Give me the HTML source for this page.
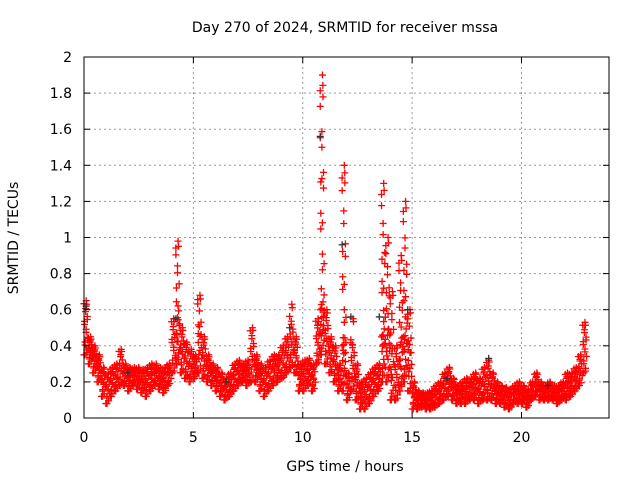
<!DOCTYPE html>
<html><head><meta charset="utf-8"><style>
body{margin:0;background:#fff}
svg{display:block;font-family:"DejaVu Sans","Liberation Sans",sans-serif}
</style></head><body>
<svg id="c" width="640" height="480">
<text x="345" y="32" font-size="14" text-anchor="middle">Day 270 of 2024, SRMTID for receiver mssa</text>
<text x="345" y="471" font-size="14" text-anchor="middle">GPS time / hours</text>
<text transform="translate(18,238) rotate(-90)" font-size="14" text-anchor="middle">SRMTID / TECUs</text>
<g id="grid"></g><g id="marks"></g>
<rect x="84" y="57" width="525" height="361" fill="none" stroke="#000"/>
<g id="ticks"></g>
</svg>
<script>
const times=[];for(let i=0;i<115;i++)times.push(+(i*0.2).toFixed(1));
const lo=[.35,.30,.25,.20,.12,.08,.12,.15,.18,.18,.15,.18,.16,.14,.12,.15,.18,.16,.14,.18,.25,.30,.25,.22,.20,.22,.25,.22,.20,.18,.15,.12,.10,.12,.15,.18,.20,.18,.20,.20,.15,.12,.15,.18,.20,.22,.25,.28,.25,.15,.15,.18,.15,.30,.35,.30,.25,.20,.15,.15,.10,.15,.10,.05,.05,.08,.12,.15,.20,.20,.10,.10,.15,.20,.15,.05,.05,.06,.05,.05,.06,.08,.10,.12,.10,.08,.08,.08,.10,.10,.08,.10,.10,.10,.08,.08,.06,.05,.08,.08,.08,.06,.10,.12,.10,.10,.10,.10,.08,.10,.10,.12,.15,.18,.25];
const hi=[.65,.45,.40,.35,.28,.25,.28,.30,.38,.30,.28,.28,.28,.27,.28,.30,.30,.28,.28,.30,.55,.98,.50,.42,.38,.35,.68,.45,.35,.30,.28,.25,.22,.25,.30,.32,.30,.32,.50,.35,.30,.28,.32,.35,.35,.40,.45,.63,.45,.30,.32,.33,.30,.55,1.90,.60,.45,.40,.30,1.40,.25,.55,.30,.20,.22,.25,.28,.30,1.30,1.00,.70,.40,.90,1.20,.60,.20,.15,.14,.14,.15,.18,.20,.25,.28,.22,.18,.20,.22,.22,.25,.22,.28,.32,.25,.20,.18,.17,.16,.18,.20,.18,.16,.20,.25,.20,.18,.20,.18,.18,.20,.25,.25,.28,.35,.53];
const blkT=[0.1,4.2,10.8,11.8,12.2,13.5,14.8,18.5,9.4,2.0,6.5,16.6,21.2];
const blkV=[0.62,0.55,1.56,0.96,0.56,0.56,0.60,0.33,0.50,0.25,0.20,0.22,0.18];
const xTicks=[0,5,10,15,20];
const yTicks=[0,0.2,0.4,0.6,0.8,1,1.2,1.4,1.6,1.8,2];
const X0=84,X1=609,Y0=418,Y1=57;
const sx=t=>X0+t/24*(X1-X0), sy=v=>Y0-v/2*(Y0-Y1);
const NS="http://www.w3.org/2000/svg";
const G=document.getElementById('grid'),M=document.getElementById('marks'),T=document.getElementById('ticks');
function mk(tag,a,p){const e=document.createElementNS(NS,tag);for(const k in a)e.setAttribute(k,a[k]);p.appendChild(e);return e;}
yTicks.forEach(v=>{const y=sy(v);
 if(v>0&&v<2){const g=mk('line',{x1:X0,x2:X1,y1:y,y2:y,stroke:'#999','stroke-dasharray':'2,3'},G);
 
 }
 mk('line',{x1:X0,x2:X0+6,y1:y,y2:y,stroke:'#000'},T);mk('line',{x1:X1,x2:X1-6,y1:y,y2:y,stroke:'#000'},T);
 const t=mk('text',{x:X0-12,y:y+5,'font-size':14,'text-anchor':'end'},T);t.textContent=v;
 
 });
xTicks.forEach(v=>{const x=sx(v);
 if(v>0){const g=mk('line',{x1:x,x2:x,y1:Y1,y2:Y0,stroke:'#999','stroke-dasharray':'2,3'},G);
 
 }
 mk('line',{x1:x,x2:x,y1:Y0,y2:Y0-6,stroke:'#000'},T);mk('line',{x1:x,x2:x,y1:Y1,y2:Y1+6,stroke:'#000'},T);
 const t=mk('text',{x:x,y:Y0+24,'font-size':14,'text-anchor':'middle'},T);t.textContent=v;
 
 });
function plus(x,y,c){const p=mk('path',{d:`M${x-3.5},${y}h7M${x},${y-3.5}v7`,stroke:c,'stroke-width':1.3,fill:'none'},M);
 
 }
times.forEach((t,i)=>{const a=lo[i],b=hi[i];
 const n=10+Math.ceil((b-a)/0.06);
 for(let k=0;k<n;k++){const tt=t+(k%8)*0.025;const f=(k*0.618)%1;
  const v=(b-a>0.4&&k%3!=0)? a+(b-a)*f : a+Math.min(b-a,0.3)*f;
  plus(sx(tt),sy(v),'#f00');}
 plus(sx(t+0.1),sy(b),'#f00');plus(sx(t+0.12),sy(b*0.97),'#f00');plus(sx(t+0.05),sy(a),'#f00');});
blkT.forEach((t,i)=>plus(sx(t),sy(blkV[i]),'#333'));
</script>
</body></html>
